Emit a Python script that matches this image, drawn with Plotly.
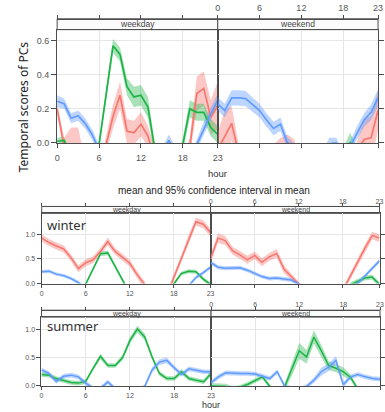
import plotly.graph_objects as go

W, H = 385, 412
hours = list(range(24))
hour_ticks = [0, 6, 12, 18, 23]
hour_ticktext = ["0", "6", "12", "18", "23"]

# ---------------- data: top panel (all seasons) ----------------
top_wd_red = [0.20, -0.02, -0.01, -0.01, -0.15, -0.2, -0.2, -0.01, 0.155, 0.28, 0.07, 0.06,
              0.11, 0.04, -0.1, -0.2, -0.2, -0.2, -0.15, -0.02, 0.29, 0.32, 0.15, 0.22]
top_wd_red_ci = [0.03, 0.05, 0.10, 0.10, 0.05, 0.05, 0.05, 0.05, 0.07, 0.08, 0.07, 0.07,
                 0.07, 0.06, 0.05, 0.05, 0.05, 0.05, 0.05, 0.05, 0.10, 0.10, 0.10, 0.14]
top_wd_green = [0.01, 0.015, -0.08, -0.15, -0.15, -0.15, -0.01, 0.28, 0.57, 0.52, 0.33, 0.27,
                0.28, 0.21, -0.04, -0.15, -0.15, -0.15, -0.01, 0.20, 0.18, 0.18, 0.09, 0.05]
top_wd_green_ci = [0.02, 0.02, 0.02, 0.02, 0.02, 0.02, 0.03, 0.04, 0.04, 0.04, 0.05, 0.06,
                   0.06, 0.06, 0.04, 0.03, 0.03, 0.03, 0.04, 0.05, 0.05, 0.05, 0.05, 0.05]
top_wd_blue = [0.245, 0.23, 0.145, 0.16, 0.115, 0.05, -0.04, -0.15, -0.15, -0.15, -0.15, -0.15,
               -0.15, -0.15, -0.15, -0.06, 0.015, -0.06, -0.15, -0.1, -0.01, 0.09, 0.17, 0.25]
top_wd_blue_ci = [0.035, 0.03, 0.03, 0.03, 0.03, 0.03, 0.03, 0.03, 0.03, 0.03, 0.03, 0.03,
                  0.03, 0.03, 0.03, 0.03, 0.035, 0.03, 0.03, 0.03, 0.03, 0.035, 0.035, 0.04]

top_we_red = [-0.04, 0.04, 0.115, -0.06, -0.2, -0.2, -0.2, -0.2, -0.05, -0.02, 0.0, -0.02,
              -0.2, -0.2, -0.2, -0.2, -0.2, -0.2, -0.2, -0.1, -0.05, 0.02, 0.03, 0.19]
top_we_red_ci = [0.10, 0.15, 0.10, 0.05, 0.05, 0.05, 0.05, 0.05, 0.04, 0.05, 0.05, 0.04,
                 0.04, 0.04, 0.04, 0.04, 0.04, 0.04, 0.04, 0.04, 0.06, 0.12, 0.13, 0.12]
top_we_green = [-0.01, -0.1, -0.15, -0.15, -0.15, -0.15, -0.15, -0.15, -0.15, -0.15, -0.15, -0.15,
                -0.15, -0.15, -0.15, -0.15, -0.15, -0.15, -0.06, 0.0, -0.06, -0.15, -0.15, -0.15]
top_we_green_ci = [0.03, 0.03, 0.03, 0.03, 0.03, 0.03, 0.03, 0.03, 0.03, 0.03, 0.03, 0.03,
                   0.03, 0.03, 0.03, 0.03, 0.03, 0.03, 0.03, 0.06, 0.03, 0.03, 0.03, 0.03]
top_we_blue = [0.23, 0.19, 0.265, 0.265, 0.26, 0.225, 0.19, 0.135, 0.085, 0.11, 0.0, -0.04,
               -0.12, -0.15, -0.15, -0.08, -0.005, 0.0, -0.08, -0.02, 0.06, 0.135, 0.18, 0.265]
top_we_blue_ci = [0.04, 0.04, 0.045, 0.045, 0.045, 0.04, 0.04, 0.04, 0.04, 0.04, 0.035, 0.035,
                  0.03, 0.03, 0.03, 0.03, 0.035, 0.03, 0.03, 0.03, 0.04, 0.04, 0.045, 0.05]

# ---------------- data: winter panel ----------------
win_wd_red = [0.92, 0.83, 0.76, 0.70, 0.52, 0.30, 0.42, 0.48, 0.65, 0.85, 0.65, 0.52,
              0.41, 0.18, -0.02, -0.3, -0.3, -0.25, 0.12, 0.50, 0.90, 1.25, 1.20, 1.03]
win_wd_red_ci = [0.07, 0.07, 0.07, 0.07, 0.07, 0.07, 0.07, 0.07, 0.07, 0.08, 0.07, 0.07,
                 0.07, 0.07, 0.07, 0.07, 0.07, 0.07, 0.07, 0.07, 0.08, 0.08, 0.08, 0.08]
win_wd_green = [-0.3, -0.3, -0.3, -0.3, -0.3, -0.3, -0.01, 0.30, 0.60, 0.62, 0.33, 0.06,
                -0.2, -0.3, -0.3, -0.3, -0.3, -0.3, -0.01, 0.20, 0.25, 0.24, 0.09, -0.02]
win_wd_green_ci = [0.04, 0.04, 0.04, 0.04, 0.04, 0.04, 0.04, 0.04, 0.05, 0.05, 0.04, 0.04,
                   0.04, 0.04, 0.04, 0.04, 0.04, 0.04, 0.04, 0.04, 0.04, 0.04, 0.04, 0.04]
win_wd_blue = [0.24, 0.25, 0.19, 0.16, 0.10, 0.02, -0.1, -0.2, -0.2, -0.2, -0.2, -0.2,
               -0.2, -0.2, -0.2, -0.2, -0.2, -0.2, -0.2, -0.2, -0.05, 0.12, 0.22, 0.33]
win_wd_blue_ci = [0.035] * 24

win_we_red = [0.50, 0.92, 0.87, 0.66, 0.58, 0.48, 0.57, 0.43, 0.54, 0.61, 0.29, 0.14,
              0.0, -0.2, -0.3, -0.3, -0.3, -0.3, -0.14, 0.15, 0.43, 0.71, 0.97, 0.92]
win_we_red_ci = [0.08, 0.10, 0.09, 0.08, 0.08, 0.08, 0.08, 0.08, 0.08, 0.09, 0.08, 0.07,
                 0.06, 0.06, 0.06, 0.06, 0.06, 0.06, 0.06, 0.07, 0.08, 0.08, 0.08, 0.08]
win_we_green = [-0.3, -0.3, -0.3, -0.3, -0.3, -0.3, -0.3, -0.3, -0.3, -0.3, -0.3, -0.3,
                -0.3, -0.3, -0.3, -0.3, -0.3, -0.3, -0.3, -0.03, 0.04, 0.11, 0.13, -0.02]
win_we_green_ci = [0.05] * 24
win_we_blue = [0.43, 0.33, 0.31, 0.32, 0.32, 0.27, 0.21, 0.14, 0.10, 0.11, 0.09, 0.07,
               -0.01, -0.1, -0.2, -0.2, -0.2, -0.2, -0.2, -0.1, 0.0, 0.15, 0.30, 0.46]
win_we_blue_ci = [0.04] * 24

# ---------------- data: summer panel ----------------
sum_wd_green = [0.20, 0.19, 0.13, 0.10, 0.06, 0.05, 0.08, 0.31, 0.52, 0.36, 0.36, 0.50,
                0.80, 1.00, 0.86, 0.51, 0.22, 0.13, 0.13, 0.25, 0.13, 0.10, 0.075, 0.22]
sum_wd_green_ci = [0.04, 0.04, 0.04, 0.04, 0.04, 0.04, 0.04, 0.04, 0.05, 0.04, 0.04, 0.05,
                   0.06, 0.06, 0.06, 0.05, 0.04, 0.04, 0.04, 0.05, 0.04, 0.04, 0.04, 0.05]
sum_wd_blue = [0.28, 0.22, 0.08, 0.17, 0.19, 0.16, 0.05, -0.04, -0.04, 0.07, -0.05, -0.15,
               -0.15, -0.1, -0.01, 0.28, 0.42, 0.45, 0.32, 0.20, 0.30, 0.27, 0.25, 0.25]
sum_wd_blue_ci = [0.04, 0.04, 0.04, 0.04, 0.04, 0.04, 0.04, 0.04, 0.04, 0.04, 0.04, 0.04,
                  0.04, 0.04, 0.04, 0.05, 0.05, 0.05, 0.04, 0.04, 0.04, 0.04, 0.04, 0.04]

sum_we_green = [0.0, 0.0, -0.01, -0.05, -0.02, 0.03, 0.10, 0.16, -0.01, -0.15, -0.02, 0.30,
                0.62, 0.51, 0.86, 0.62, 0.36, 0.31, 0.25, 0.15, -0.06, -0.15, -0.15, -0.15]
sum_we_green_ci = [0.05, 0.05, 0.05, 0.04, 0.04, 0.04, 0.04, 0.04, 0.04, 0.04, 0.06, 0.12,
                   0.14, 0.12, 0.12, 0.10, 0.08, 0.07, 0.08, 0.05, 0.04, 0.04, 0.04, 0.04]
sum_we_blue = [0.06, 0.16, 0.23, 0.22, 0.22, 0.22, 0.21, 0.17, 0.13, 0.25, 0.0, -0.05,
               -0.06, -0.01, 0.10, 0.25, 0.33, 0.45, 0.02, 0.16, 0.20, 0.16, 0.13, 0.12]
sum_we_blue_ci = [0.04, 0.04, 0.04, 0.04, 0.04, 0.04, 0.04, 0.04, 0.04, 0.04, 0.04, 0.04,
                  0.04, 0.04, 0.05, 0.07, 0.07, 0.07, 0.05, 0.04, 0.04, 0.04, 0.04, 0.04]

# ---------------- styling ----------------
LINE = {"red": "#F8766D", "green": "#1DB446", "blue": "#619CFF"}
FILL = {"red": "rgba(248,118,109,0.40)", "green": "rgba(29,180,70,0.38)",
        "blue": "rgba(97,156,255,0.42)"}
AX = "#4d4d4d"
GRID = "#e6e6e6"
TICKC = "#555555"
FONT = "Liberation Sans, Arial, sans-serif"


def fx(px):
    return px / W


def fy(py):
    return 1 - py / H


panels = [
    dict(x0=55.3, xm=219.3, x1=383.0, ytop=30, ybot=144.7, stop=19,
         yr=[0, 0.665], yt=[0, 0.2, 0.4, 0.6], ytt=["0.0", "0.2", "0.4", "0.6"],
         fs=9, sfs=8.5, tl=4, lw=1.7, bso=2, tso=0,
         wd=[("red", top_wd_red, top_wd_red_ci), ("green", top_wd_green, top_wd_green_ci),
             ("blue", top_wd_blue, top_wd_blue_ci)],
         we=[("red", top_we_red, top_we_red_ci), ("green", top_we_green, top_we_green_ci),
             ("blue", top_we_blue, top_we_blue_ci)]),
    dict(x0=39.5, xm=212.0, x1=384.5, ytop=216, ybot=287, stop=209,
         yr=[0, 1.42], yt=[0, 0.5, 1.0], ytt=["0.0", "0.5", "1.0"],
         fs=7, sfs=7, tl=3, lw=1.5, bso=0, tso=-3,
         wd=[("red", win_wd_red, win_wd_red_ci), ("green", win_wd_green, win_wd_green_ci),
             ("blue", win_wd_blue, win_wd_blue_ci)],
         we=[("red", win_we_red, win_we_red_ci), ("green", win_we_green, win_we_green_ci),
             ("blue", win_we_blue, win_we_blue_ci)]),
    dict(x0=39.3, xm=212.5, x1=385.0, ytop=321, ybot=390.7, stop=314,
         yr=[0, 1.21], yt=[0, 0.5, 1.0], ytt=["0.0", "0.5", "1.0"],
         fs=7, sfs=7, tl=3, lw=1.5, bso=0, tso=-3,
         wd=[("green", sum_wd_green, sum_wd_green_ci), ("blue", sum_wd_blue, sum_wd_blue_ci)],
         we=[("green", sum_we_green, sum_we_green_ci), ("blue", sum_we_blue, sum_we_blue_ci)]),
]

fig = go.Figure()
layout = {}
shapes = []
annotations = []

k = 0
for p in panels:
    for side in ("wd", "we"):
        k += 1
        xb, xt = 2 * k - 1, 2 * k
        xb_name = "xaxis" if xb == 1 else f"xaxis{xb}"
        xt_name = f"xaxis{xt}"
        y_name = "yaxis" if k == 1 else f"yaxis{k}"
        xref_b = "x" if xb == 1 else f"x{xb}"
        xref_t = f"x{xt}"
        yref = "y" if k == 1 else f"y{k}"
        is_wd = side == "wd"
        dom = [fx(p["x0"]), fx(p["xm"])] if is_wd else [fx(p["xm"]), fx(p["x1"])]
        tf = dict(size=p["fs"], color=TICKC, family=FONT)

        layout[xb_name] = dict(domain=dom, range=[0, 23], anchor=yref,
                               tickmode="array", tickvals=hour_ticks, ticktext=hour_ticktext,
                               ticks="outside", ticklen=p["tl"], tickcolor=AX,
                               showticklabels=is_wd, tickfont=tf,
                               ticklabelstandoff=p["bso"],
                               showgrid=True, gridcolor=GRID, gridwidth=1,
                               showline=True, linecolor=AX, linewidth=1, mirror=True,
                               zeroline=False)
        layout[xt_name] = dict(domain=dom, range=[0, 23], overlaying=xref_b, side="top",
                               anchor="free", position=fy(p["stop"]),
                               tickmode="array", tickvals=hour_ticks, ticktext=hour_ticktext,
                               ticks="outside", ticklen=p["tl"], tickcolor=AX,
                               showticklabels=not is_wd, tickfont=tf,
                               ticklabelstandoff=p["tso"],
                               showgrid=False, showline=True, linecolor=AX, linewidth=1,
                               zeroline=False)
        layout[y_name] = dict(domain=[fy(p["ybot"]), fy(p["ytop"])], range=p["yr"],
                              anchor=xref_b, side="left" if is_wd else "right",
                              tickmode="array", tickvals=p["yt"], ticktext=p["ytt"],
                              ticks="outside", ticklen=p["tl"] + 1, tickcolor=AX,
                              showticklabels=is_wd, tickfont=tf,
                              showgrid=True, gridcolor=GRID, gridwidth=1,
                              showline=True, linecolor=AX, linewidth=1, mirror=True,
                              zeroline=False)

        # dummy trace so the top axis renders
        fig.add_trace(go.Scatter(x=[None], y=[None], xaxis=xref_t, yaxis=yref,
                                 showlegend=False, hoverinfo="skip"))

        series = p[side]
        # confidence bands
        for name, mean, ci in series:
            upper = [m + c for m, c in zip(mean, ci)]
            lower = [m - c for m, c in zip(mean, ci)]
            fig.add_trace(go.Scatter(x=hours, y=upper, xaxis=xref_b, yaxis=yref,
                                     mode="lines", line=dict(width=0, color=FILL[name]),
                                     showlegend=False, hoverinfo="skip"))
            fig.add_trace(go.Scatter(x=hours, y=lower, xaxis=xref_b, yaxis=yref,
                                     mode="lines", line=dict(width=0, color=FILL[name]),
                                     fill="tonexty", fillcolor=FILL[name],
                                     showlegend=False, hoverinfo="skip"))
        # mean lines
        for name, mean, ci in series:
            fig.add_trace(go.Scatter(x=hours, y=mean, xaxis=xref_b, yaxis=yref,
                                     mode="lines", line=dict(width=p["lw"], color=LINE[name]),
                                     showlegend=False, name=name))

        # strip
        shapes.append(dict(type="rect", xref="paper", yref="paper",
                           x0=dom[0], x1=dom[1], y0=fy(p["ytop"]), y1=fy(p["stop"]),
                           line=dict(color=AX, width=1), fillcolor="#fbfbfb", layer="below"))
        annotations.append(dict(xref="paper", yref="paper",
                                x=(dom[0] + dom[1]) / 2, y=fy((p["ytop"] + p["stop"]) / 2),
                                text="weekday" if is_wd else "weekend", showarrow=False,
                                font=dict(size=p["sfs"], color="#444", family=FONT),
                                xanchor="center", yanchor="middle"))

# text labels
annotations += [
    dict(xref="paper", yref="paper", x=fx(21), y=fy(108), text="Temporal scores of PCs",
         textangle=-90, showarrow=False, xanchor="center", yanchor="middle",
         font=dict(size=12, color="#222", family="Noto Sans, sans-serif")),
    dict(xref="paper", yref="paper", x=fx(219), y=fy(176), text="hour", showarrow=False,
         xanchor="center", yanchor="middle", font=dict(size=9.5, color="#333", family=FONT)),
    dict(xref="paper", yref="paper", x=fx(215), y=fy(193),
         text="mean and 95% confidence interval in mean", showarrow=False,
         xanchor="center", yanchor="middle", font=dict(size=10, color="#222", family=FONT)),
    dict(xref="paper", yref="paper", x=fx(43), y=fy(228), text="winter", showarrow=False,
         xanchor="left", yanchor="middle", font=dict(size=13, color="#333", family="Noto Sans, sans-serif")),
    dict(xref="paper", yref="paper", x=fx(43), y=fy(330), text="summer", showarrow=False,
         xanchor="left", yanchor="middle", font=dict(size=13, color="#333", family="Noto Sans, sans-serif")),
    dict(xref="paper", yref="paper", x=fx(212), y=fy(410), text="hour", showarrow=False,
         xanchor="center", yanchor="middle", font=dict(size=9, color="#333", family=FONT)),
]

fig.update_layout(**layout)
fig.update_layout(width=W, height=H, margin=dict(l=0, r=0, t=0, b=0),
                  paper_bgcolor="white", plot_bgcolor="white", showlegend=False,
                  shapes=shapes, annotations=annotations)

fig.write_html("out.html")
